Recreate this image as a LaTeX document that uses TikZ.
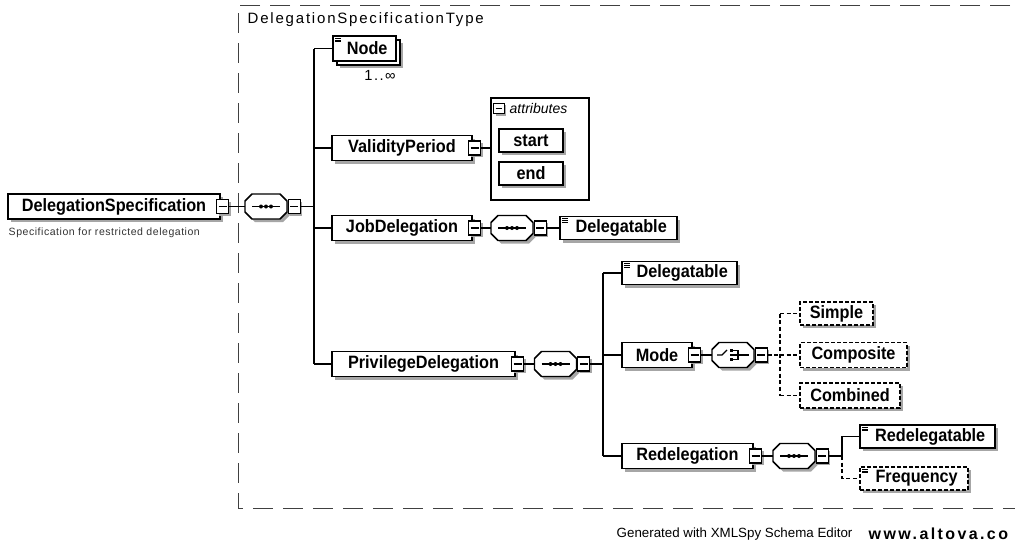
\documentclass[tikz,border=0pt]{standalone}
\usepackage{fontspec}
\setmainfont{Liberation Sans}
\newfontfamily\elf[FakeStretch=0.91]{Liberation Sans}
\newfontfamily\titlef[LetterSpace=12]{Liberation Sans}
\newfontfamily\descf[LetterSpace=5]{Liberation Sans}
\newfontfamily\wwwf[LetterSpace=15]{Liberation Sans}
\newfontfamily\occf[LetterSpace=10]{Liberation Sans}
\usetikzlibrary{shadows,calc}
\newcommand\octo[1]{%
  \fill[black!35] ([xshift=2.25pt,yshift=-2.25pt]#1.center) ++(-14,-12.5) -- ++(28,0) -- ++(7,7) -- ++(0,11) -- ++(-7,7) -- ++(-28,0) -- ++(-7,-7) -- ++(0,-11) -- cycle;
  \draw[line width=1.1pt, fill=white] (#1.center) ++(-14,-12.5) -- ++(28,0) -- ++(7,7) -- ++(0,11) -- ++(-7,7) -- ++(-28,0) -- ++(-7,-7) -- ++(0,-11) -- cycle;}
\newcommand\seqsym[1]{%
  \draw[line width=1.1pt] ([xshift=-10.5pt]#1.center) -- ([xshift=10.5pt]#1.center);
  \foreach \dx in {-3.75pt,0pt,3.75pt} \fill ([xshift=\dx]#1.center) circle[radius=1.5pt];}
\newcommand\chosym[1]{%
  \begin{scope}[shift={(#1.center)}]
    \draw[line width=1pt] (-16,0) -- (-11,0) -- (-6,-5);
    \foreach \yy in {-4.5,0,4.5} \fill (-3.5,\yy-1.2) rectangle (-0.5,\yy+1.2);
    \draw[line width=0.8pt] (-0.5,-4.5) -- (5,-4.5) -- (5,4.5) -- (-0.5,4.5) (-0.5,0) -- (16,0);
  \end{scope}}
\newcommand\eqic[1]{\foreach \dy in {2.25pt,3.6pt,4.95pt} \draw[line width=0.6pt] ([xshift=2.25pt,yshift=-\dy]#1.north west) -- ++(4.5pt,0);}
\begin{document}
\begin{tikzpicture}[x=0.75pt,y=-0.75pt,
  elbase/.style={draw, line width=1.1pt, fill=white, inner sep=0pt, font=\elf\bfseries\fontsize{13.4pt}{15pt}\selectfont, text=black},
  shad/.style={general shadow={shadow xshift=2.25pt, shadow yshift=-2.25pt, fill=black!35}},
  el/.style={elbase, shad},
  bw/.style={minimum width=#1*0.75pt},
  bh/.style={minimum height=#1*0.75pt},
  opt/.style={dash pattern=on 3pt off 1.5pt},
  minus/.style={draw, line width=0.8pt, fill=white, inner sep=0pt, minimum width=9pt, minimum height=10.5pt,
    general shadow={shadow xshift=1.5pt, shadow yshift=-1.5pt, fill=black!35},
    path picture={\draw[line width=0.8pt] ([xshift=1.5pt]path picture bounding box.west) -- ([xshift=-1.5pt]path picture bounding box.east);}},
  conn/.style={line width=1.1pt},
  dconn/.style={line width=1.1pt, dash pattern=on 3pt off 2pt},
  compo/.style={inner sep=0pt, minimum width=31.5pt, minimum height=18.75pt},
]
\useasboundingbox (0,0) rectangle (1015,550);
\fill[white] (0,0) rectangle (1015,550);
% type box
\draw[line width=0.7pt, black!75, dash pattern=on 15pt off 7.5pt] (1040,5) -- (238,5) -- (238,508) -- (1040,508);
\node[anchor=west, font=\titlef\fontsize{11.25pt}{13pt}\selectfont] (title) at (243,20) {DelegationSpecificationType};

% root
\node[el,bw=212,bh=25] (ds) at (114,206.5) {DelegationSpecification};
\node[minus] (dsm) at ([xshift=1.5pt]ds.east) {};
\node[anchor=west, font=\descf\fontsize{7.9pt}{9pt}\selectfont, text=black!80] (desc) at (4,233) {Specification for restricted delegation};
\node[compo] (c1) at (266,206.5) {};
\draw[conn] (dsm.east) -- (c1.west);
\octo{c1}\seqsym{c1}
\node[minus] (c1m) at ([xshift=5.25pt]c1.east) {};
\coordinate (b1) at (314,206.5);
\draw[conn] (c1m.east) -- (b1);

% children of type
\node[el,bw=63,bh=25] (ndb) at (368.5,52.5) {};
\node[elbase,bw=63,bh=25] (nd) at (364.5,48.5) {\hspace*{4pt}Node};
\eqic{nd}
\node[font=\occf\fontsize{11pt}{12pt}\selectfont] (ndocc) at (380,75) {1..∞};
\node[el,bw=140,bh=25] (vp) at (402,148) {ValidityPeriod};
\node[el,bw=140,bh=25] (jd) at (402,228) {JobDelegation};
\node[el,bw=183,bh=25] (pd) at (423.5,364) {PrivilegeDelegation};
\draw[conn] (b1 |- nd.west) -- (b1 |- pd.west);
\draw[conn] (b1 |- nd.west) -- (nd.west);
\draw[conn] (b1 |- vp.west) -- (vp.west);
\draw[conn] (b1 |- jd.west) -- (jd.west);
\draw[conn] (b1 |- pd.west) -- (pd.west);

% ValidityPeriod attributes
\node[minus] (vpm) at ([xshift=1.5pt]vp.east) {};
\node[draw, line width=0.8pt, bw=98, bh=102, inner sep=0pt] (attr) at (540,149) {};
\draw[conn] (vpm.east) -- (vpm.east -| attr.west);
\node[minus, general shadow={shadow xshift=0pt, shadow yshift=0pt, fill=white}, minimum width=8pt, minimum height=8pt] (atm) at (499,108.5) {};
\node[anchor=west, font=\itshape\fontsize{10.5pt}{12pt}\selectfont] (att) at (505,108.5) {attributes};
\node[el,bw=64,bh=23] (st) at (531,140.5) {start};
\node[el,bw=64,bh=23] (en) at (531,173.5) {end};

% JobDelegation
\node[minus] (jdm) at ([xshift=1.5pt]jd.east) {};
\node[compo] (c2) at (512,228) {};
\draw[conn] (jdm.east) -- (c2.west);
\octo{c2}\seqsym{c2}
\node[minus] (c2m) at ([xshift=5.25pt]c2.east) {};
\node[el,bw=117,bh=23] (dl1) at (618.5,228) {\hspace*{4pt}Delegatable};
\eqic{dl1}
\draw[conn] (c2m.east) -- (dl1.west);

% PrivilegeDelegation
\node[minus] (pdm) at ([xshift=1.5pt]pd.east) {};
\node[compo] (c3) at (555.5,364) {};
\draw[conn] (pdm.east) -- (c3.west);
\octo{c3}\seqsym{c3}
\node[minus] (c3m) at ([xshift=5.25pt]c3.east) {};
\coordinate (b2) at (603,364);
\draw[conn] (c3m.east) -- (b2);
\node[el,bw=115,bh=23] (dl2) at (679.5,273) {\hspace*{4pt}Delegatable};
\eqic{dl2}
\node[el,bw=70,bh=25] (mo) at (657,355) {Mode};
\node[el,bw=131,bh=25] (rd) at (687.5,456) {Redelegation};
\draw[conn] (b2 |- dl2.west) -- (b2 |- rd.west);
\draw[conn] (b2 |- dl2.west) -- (dl2.west);
\draw[conn] (b2 |- mo.west) -- (mo.west);
\draw[conn] (b2 |- rd.west) -- (rd.west);

% Mode choice
\node[minus] (mom) at ([xshift=1.5pt]mo.east) {};
\node[compo] (c4) at (733,355) {};
\draw[conn] (mom.east) -- (c4.west);
\octo{c4}\chosym{c4}
\node[minus] (c4m) at ([xshift=5.25pt]c4.east) {};
\coordinate (b3) at (780,355);
\node[el,opt,bw=73,bh=23] (si) at (836.5,313.5) {Simple};
\node[el,opt,bw=107,bh=25] (cp) at (853.5,355) {Composite};
\node[el,opt,bw=100,bh=25] (cb) at (850,395.5) {Combined};
\draw[dconn] (c4m.east) -- (b3);
\draw[dconn] (b3 |- si.west) -- (b3 |- cb.west);
\draw[dconn] (b3 |- si.west) -- (si.west);
\draw[dconn] (b3 |- cp.west) -- (cp.west);
\draw[dconn] (b3 |- cb.west) -- (cb.west);

% Redelegation
\node[minus] (rdm) at ([xshift=1.5pt]rd.east) {};
\node[compo] (c5) at (794,456) {};
\draw[conn] (rdm.east) -- (c5.west);
\octo{c5}\seqsym{c5}
\node[minus] (c5m) at ([xshift=5.25pt]c5.east) {};
\coordinate (b4) at (842,456);
\node[el,bw=135,bh=23] (rg) at (927.5,436.5) {\hspace*{4pt}Redelegatable};
\eqic{rg}
\node[el,opt,bw=108,bh=23] (fq) at (914,478.5) {\hspace*{4pt}Frequency};
\eqic{fq}
\draw[conn] (c5m.east) -- (b4) -- (b4 |- rg.west) -- (rg.west);
\draw[dconn] (b4) -- (b4 |- fq.west) -- (fq.west);

% footer
\node[anchor=west, font=\fontsize{10pt}{12pt}\selectfont] (gen) at (612,534) {Generated with XMLSpy Schema Editor};
\node[anchor=west, font=\wwwf\bfseries\fontsize{12pt}{14pt}\selectfont] (www) at (864,534) {www.altova.co};
\end{tikzpicture}
\end{document}
